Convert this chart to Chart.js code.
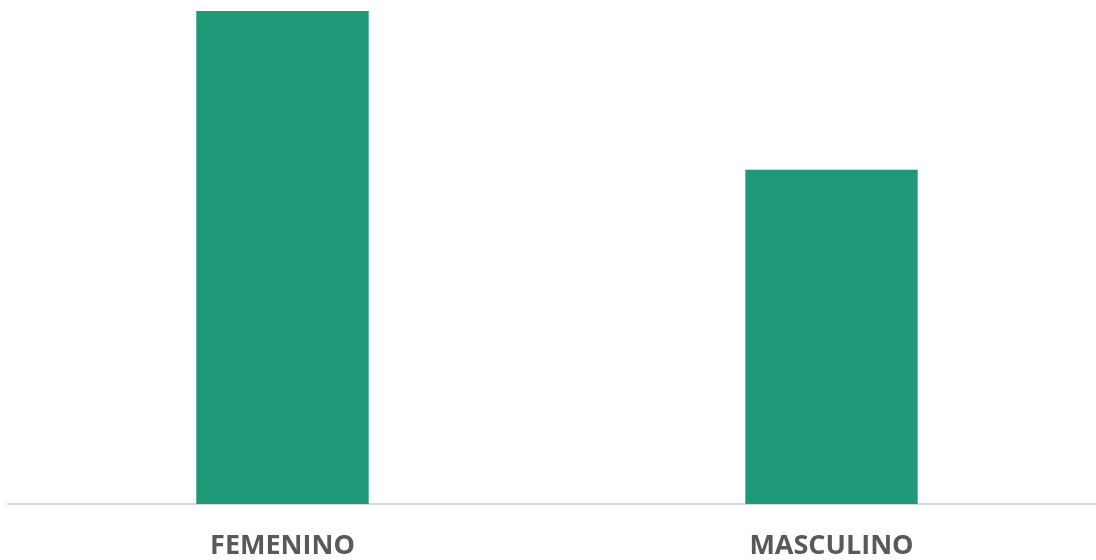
<!DOCTYPE html>
<html>
<head>
<meta charset="utf-8">
<script src="https://cdn.jsdelivr.net/npm/chart.js@4"></script>
<style>
html,body{margin:0;padding:0;background:#fff;overflow:hidden;}
#wrap{width:1106px;height:560px;position:relative;}
</style>
</head>
<body>
<div id="wrap"><canvas id="c"></canvas></div>
<script>
const categories = ["FEMENINO", "MASCULINO"];
const values = [59.6, 40.4];

new Chart(document.getElementById('c'), {
  type: 'bar',
  data: {
    labels: categories,
    datasets: [{
      data: values,
      backgroundColor: '#1E9A78',
      borderWidth: 0,
      categoryPercentage: 1,
      barPercentage: 0.314
    }]
  },
  options: {
    responsive: true,
    maintainAspectRatio: false,
    animation: false,
    layout: { padding: { top: 11, left: 8, right: 0, bottom: -29 } },
    plugins: { legend: { display: false }, tooltip: { enabled: false } },
    scales: {
      y: { display: false, min: 0, max: Math.max(...values) },
      x: {
        grid: { display: false, drawTicks: false },
        border: { display: true, color: '#D9D9D9', width: 2 },
        ticks: {
          color: '#595959',
          padding: 29,
          maxRotation: 0,
          font: { family: '"Open Sans"', size: 27, weight: 'bold', lineHeight: 1 }
        }
      }
    }
  }
});
</script>
</body>
</html>
